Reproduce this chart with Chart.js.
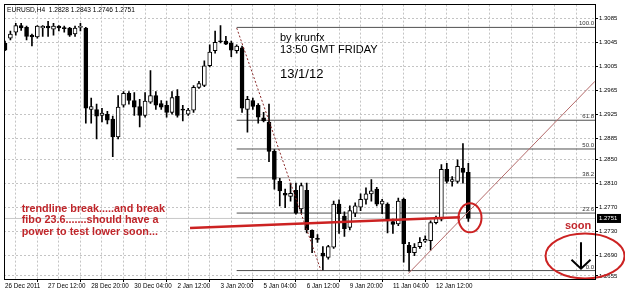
<!DOCTYPE html>
<html><head><meta charset="utf-8">
<script src="https://cdn.jsdelivr.net/npm/chart.js@4.4.1/dist/chart.umd.min.js"></script>
<style>html,body{margin:0;padding:0;background:#fff;overflow:hidden}#wrap{width:625px;height:299px;position:relative}</style>
</head><body><div id="wrap"><canvas id="c" width="625" height="299"></canvas></div>
<script>
// ---- data (EURUSD H4) ----
const opens = [1.3044,1.3052,1.3062,1.3073,1.3070,1.3057,1.3054,1.3069,1.3072,1.3067,
1.3072,1.3069,1.3069,1.3059,1.3070,1.3069,1.2933,1.2933,1.2923,1.2925,
1.2917,1.2887,1.2940,1.2960,1.2948,1.2938,1.2923,1.2945,1.2956,1.2943,
1.2940,1.2928,1.2955,1.2933,1.2925,1.2932,1.2970,1.2973,1.3006,1.3031,
1.3047,1.3047,1.3044,1.3031,1.3036,1.2933,1.2948,1.2940,1.2919,1.2912,
1.2863,1.2813,1.2793,1.2788,1.2798,1.2767,1.2798,1.2731,1.2717,1.2693,
1.2686,1.2703,1.2775,1.2755,1.2736,1.2760,1.2770,1.2783,1.2792,1.2800,
1.2775,1.2775,1.2746,1.2742,1.2783,1.2706,1.2694,1.2704,1.2713,1.2714,
1.2744,1.2750,1.2833,1.2813,1.2813,1.2835,1.2828];
const highs = [1.3047,1.3064,1.3077,1.3077,1.3072,1.3059,1.3073,1.3073,1.3080,1.3077,
1.3073,1.3072,1.3070,1.3072,1.3077,1.3070,1.2952,1.2942,1.2935,1.2930,
1.2922,1.2956,1.2963,1.2963,1.2961,1.2950,1.2961,1.2998,1.2963,1.2948,
1.2947,1.2963,1.2966,1.2940,1.2935,1.2973,1.2980,1.3014,1.3041,1.3064,
1.3073,1.3055,1.3047,1.3041,1.3039,1.2955,1.2952,1.2943,1.2928,1.2942,
1.2866,1.2818,1.2800,1.2810,1.2810,1.2810,1.2810,1.2732,1.2724,1.2704,
1.2706,1.2780,1.2782,1.2762,1.2772,1.2777,1.2792,1.2802,1.2816,1.2803,
1.2783,1.2777,1.2750,1.2785,1.2785,1.2711,1.2709,1.2719,1.2722,1.2747,
1.2755,1.2841,1.2843,1.2821,1.2849,1.2876,1.2843];
const lows = [1.3031,1.3049,1.3057,1.3065,1.3049,1.3039,1.3052,1.3055,1.3055,1.3057,
1.3064,1.3062,1.3055,1.3055,1.3064,1.2910,1.2910,1.2884,1.2912,1.2909,
1.2854,1.2884,1.2937,1.2942,1.2923,1.2904,1.2920,1.2943,1.2933,1.2933,
1.2920,1.2925,1.2920,1.2914,1.2923,1.2928,1.2968,1.2971,1.3004,1.3027,
1.3044,1.3041,1.3021,1.3027,1.2928,1.2895,1.2933,1.2910,1.2912,1.2846,
1.2800,1.2772,1.2769,1.2780,1.2758,1.2760,1.2727,1.2694,1.2711,1.2665,
1.2683,1.2701,1.2726,1.2721,1.2732,1.2754,1.2764,1.2775,1.2780,1.2772,
1.2759,1.2727,1.2726,1.2739,1.2678,1.2663,1.2689,1.2701,1.2711,1.2698,
1.2742,1.2747,1.2810,1.2805,1.2810,1.2810,1.2746];
const closes = [1.3032,1.3059,1.3073,1.3069,1.3055,1.3054,1.3072,1.3072,1.3069,1.3072,
1.3069,1.3068,1.3057,1.3069,1.3071,1.2935,1.2938,1.2922,1.2927,1.2915,
1.2887,1.2937,1.2960,1.2948,1.2937,1.2923,1.2947,1.2956,1.2940,1.2937,
1.2928,1.2953,1.2923,1.2932,1.2932,1.2970,1.2976,1.3006,1.3029,1.3045,
1.3046,1.3042,1.3032,1.3039,1.2935,1.2950,1.2938,1.2920,1.2914,1.2863,
1.2816,1.2797,1.2790,1.2793,1.2760,1.2806,1.2732,1.2719,1.2716,1.2688,
1.2704,1.2775,1.2759,1.2734,1.2764,1.2772,1.2783,1.2792,1.2797,1.2775,
1.2780,1.2747,1.2741,1.2780,1.2709,1.2694,1.2703,1.2711,1.2716,1.2744,
1.2752,1.2833,1.2813,1.2816,1.2838,1.2828,1.2751];
const timeLabels = ['26 Dec 2011','27 Dec 12:00','28 Dec 20:00','30 Dec 04:00','2 Jan 12:00','3 Jan 20:00','5 Jan 04:00','6 Jan 12:00','9 Jan 20:00','11 Jan 04:00','12 Jan 12:00'];
const priceTicks = [1.3085,1.3045,1.3005,1.2965,1.2925,1.2885,1.2850,1.2810,1.2770,1.2730,1.2690,1.2655];
const fibNames = ['100.0','61.8','50.0','38.2','23.6','0.0'];
const fibPrices = [1.3070,1.2915,1.2867,1.2819,1.2760,1.2664];
const fibStartBar = 43;
const bidPrice = 1.2751;
const trendBars = [34.34, 84.45];      const trendPrices = [1.2735, 1.2753];
const riseBars = [74.86, 109.5];       const risePrices = [1.2659, 1.2980];
const fallBars = [43.01, 58.65];       const fallPrices = [1.3069, 1.2664];
const headerText = 'EURUSD,H4  1.2828 1.2843 1.2746 1.2751';

const LABEL_STEP = 8, GRID_STEP = 4, X_MIN = -0.186, X_MAX = 109.51;
const AXIS_FONT = 'Liberation Sans';

const idx = opens.map((_, i) => i);
const line = (xs, ys) => xs.map((x, k) => ({x: x, y: ys[k]}));

const datasets = [];
datasets.push({type:'bar', label:'wick', data: idx.map(i => ({x:i, y:[lows[i], highs[i]]})),
  backgroundColor:'#000', barThickness:1, grouped:false, order:3, borderWidth:0});
datasets.push({type:'bar', label:'body', data: idx.map(i => ({x:i, y:[opens[i], closes[i]]})),
  backgroundColor: c => (closes[c.dataIndex] >= opens[c.dataIndex] ? '#fff' : '#000'),
  borderColor:'#000', borderWidth:1, borderSkipped:false, barThickness:4, minBarLength:1, grouped:false, order:1});
fibPrices.forEach((p, k) => datasets.push({type:'line', label:'fib '+fibNames[k],
  data: line([fibStartBar, X_MAX + 1], [p, p]), borderColor: fibNames[k] === '38.2' ? '#9a9a9a' : '#505050',
  borderWidth: 1, pointRadius: 0, order: 5}));
datasets.push({type:'line', label:'bid', data: line([X_MIN - 1, X_MAX + 1], [bidPrice, bidPrice]),
  borderColor:'#c8c8c8', borderWidth:1, pointRadius:0, order:6});
datasets.push({type:'line', label:'trend', data: line(trendBars, trendPrices), borderColor:'#cc2222', borderWidth:2.6, pointRadius:0, order:0});
datasets.push({type:'line', label:'rise', data: line(riseBars, risePrices), borderColor:'#b46a6a', borderWidth:1, pointRadius:0, order:0});
datasets.push({type:'line', label:'fall', data: line(fallBars, fallPrices), borderColor:'#8a2a2a', borderWidth:1, borderDash:[2,2], pointRadius:0, order:0});

const notes = [
  {text:'by krunfx', bar:51.04, price:1.30471, font:'11px "Liberation Sans"', color:'#000'},
  {text:'13:50 GMT FRIDAY', bar:51.04, price:1.30273, font:'11px "Liberation Sans"', color:'#000'},
  {text:'13/1/12', bar:51.04, price:1.29861, font:'13px "Liberation Sans"', color:'#000'},
  {text:'trendline break.....and break', bar:3.1, price:1.27625, font:'bold 10.8px "Liberation Sans"', color:'#c0262b'},
  {text:'fibo 23.6.......should have a', bar:3.1, price:1.27427, font:'bold 10.8px "Liberation Sans"', color:'#c0262b'},
  {text:'power to test lower soon...', bar:3.1, price:1.27236, font:'bold 10.8px "Liberation Sans"', color:'#c0262b'},
  {text:'soon', bar:106.36, price:1.2734, font:'bold 11px "Liberation Sans"', color:'#c0262b', align:'center'},
  {text:headerText, bar:0.37, price:1.30949, font:'6.6px "Liberation Sans"', color:'#000'}
];
const rings = [{bar:86.31, price:1.27521, rx:11.5, ry:14.5}, {bar:107.66, price:1.26882, rx:39.5, ry:22.5}];
const arrow = {bar:106.91, top:1.27114, tip:1.26672};

const overlay = {
  id:'overlay',
  afterDatasetsDraw(chart){
    const {ctx, scales:{x, y}, chartArea:a} = chart;
    ctx.save();
    ctx.font = '6px "' + AXIS_FONT + '"'; ctx.fillStyle = '#333'; ctx.textAlign = 'right'; ctx.textBaseline = 'alphabetic';
    fibPrices.forEach((p, k) => ctx.fillText(fibNames[k], a.right - 1, y.getPixelForValue(p) - 2));
    notes.forEach(n => {
      ctx.font = n.font; ctx.fillStyle = n.color; ctx.textAlign = n.align || 'left'; ctx.textBaseline = 'alphabetic';
      ctx.fillText(n.text, x.getPixelForValue(n.bar), y.getPixelForValue(n.price));
    });
    ctx.strokeStyle = '#cc2222'; ctx.lineWidth = 2;
    rings.forEach(r => { ctx.beginPath(); ctx.ellipse(x.getPixelForValue(r.bar), y.getPixelForValue(r.price), r.rx, r.ry, 0, 0, Math.PI*2); ctx.stroke(); });
    const ax = x.getPixelForValue(arrow.bar), at = y.getPixelForValue(arrow.top), ab = y.getPixelForValue(arrow.tip);
    ctx.strokeStyle = '#000'; ctx.lineWidth = 2;
    ctx.beginPath(); ctx.moveTo(ax, at); ctx.lineTo(ax, ab); ctx.moveTo(ax - 9.5, ab - 9); ctx.lineTo(ax, ab); ctx.lineTo(ax + 9.5, ab - 9); ctx.stroke();
    ctx.strokeStyle = '#000'; ctx.lineWidth = 1;
    ctx.strokeRect(Math.round(a.left) + 0.5, Math.round(a.top) - 0.5, Math.round(a.right - a.left), Math.round(a.bottom - a.top) + 1);
    const by = y.getPixelForValue(bidPrice);
    ctx.fillStyle = '#000'; ctx.fillRect(a.right + 2, by - 4.5, 24, 9);
    ctx.fillStyle = '#fff'; ctx.font = '6px "' + AXIS_FONT + '"'; ctx.textAlign = 'left'; ctx.textBaseline = 'middle';
    ctx.fillText(bidPrice.toFixed(4), a.right + 4, by);
    ctx.restore();
  }
};

new Chart(document.getElementById('c'), {
  type:'bar',
  data:{datasets},
  plugins:[overlay],
  options:{
    responsive:false, devicePixelRatio:1, animation:false,
    layout:{padding:{left:4, top:1, right:0, bottom:0}},
    plugins:{legend:{display:false}, tooltip:{enabled:false}},
    scales:{
      x:{type:'linear', min:X_MIN, max:X_MAX, offset:false,
        afterBuildTicks: s => { const t = []; for (let v = 0; v <= X_MAX; v += GRID_STEP) t.push({value:v}); s.ticks = t; },
        afterFit: s => { s.height = 20; },
        grid:{color:'#c4c4c4', lineWidth:1, tickLength:3,
          tickColor: c => (c.tick && c.tick.value % LABEL_STEP === 0 && c.tick.value / LABEL_STEP < timeLabels.length) ? '#000' : 'rgba(0,0,0,0)'},
        border:{display:false, dash:[2,2]},
        ticks:{autoSkip:false, maxRotation:0, minRotation:0, align:'start', padding:0, color:'#000',
          font:{family:AXIS_FONT, size:6.3},
          callback: v => (v % LABEL_STEP === 0 && v / LABEL_STEP < timeLabels.length) ? timeLabels[v / LABEL_STEP] : ''}
      },
      y:{type:'linear', position:'right', min:1.264993, max:1.310807,
        afterBuildTicks: s => { s.ticks = priceTicks.map(v => ({value:v})); },
        afterFit: s => { s.width = 30; },
        grid:{color:'#c4c4c4', lineWidth:1, tickLength:3, tickColor:'#000'},
        border:{display:false, dash:[2,2]},
        ticks:{padding:1, color:'#000', font:{family:AXIS_FONT, size:6}, callback: v => v.toFixed(4)}
      }
    }
  }
});
</script></body></html>
